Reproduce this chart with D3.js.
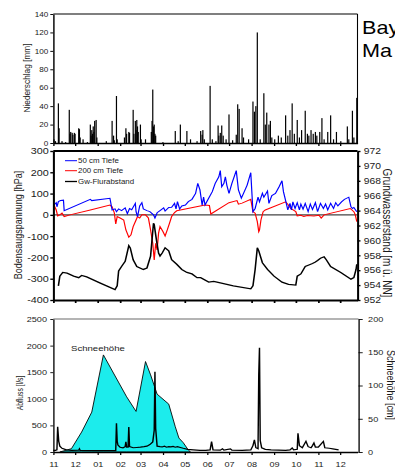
<!DOCTYPE html>
<html>
<head>
<meta charset="utf-8">
<script src="https://cdnjs.cloudflare.com/ajax/libs/d3/7.8.5/d3.min.js"></script>
<style>
  body { margin: 0; background: #fff; }
  svg { display: block; font-family: "Liberation Sans", Arial, sans-serif; }
</style>
</head>
<body>
<div id="chart"></div>
<script>
// the original figure is stretched sideways, so draw in a squeezed box and stretch it back
const SX = 1.2;
const W = 395, H = 471;
const px = (v) => v / SX;

// x axis: days since 1 Nov, month starts
const monthDays = [0, 30, 61, 92, 120, 151, 181, 212, 242, 273, 304, 334, 365, 395];
const monthLabels = ['11', '12', '01', '02', '03', '04', '05', '06', '07', '08', '09', '10', '11', '12'];

const rainTicks = [0, 20, 40, 60, 80, 100, 120, 140];
const suctionTicks = [-400, -300, -200, -100, 0, 100, 200, 300];
const gwTicks = [952, 954, 956, 958, 960, 962, 964, 966, 968, 970, 972];
const flowTicks = [0, 500, 1000, 1500, 2000, 2500];
const snowTicks = [0, 50, 100, 150, 200];

const seriesNames = ['50 cm Tiefe', '200 cm Tiefe', 'Gw-Flurabstand'];

// Niederschlag [mm]  [day, mm]
const rain = [[1,4],[3,2],[7,43],[8,16],[12,2],[17,1],[22,36],[23,10],[24,12],[26,11],[27,9],[29,11],[30,10],
  [35,16],[36,15],[37,6],[41,4],[47,1],[51,20],[52,8],[53,14],[54,10],[55,18],[56,12],[57,24],[59,25],[60,6],
  [73,2],[81,24],[83,8],[84,3],[87,51],[88,4],[98,6],[100,16],[101,10],[104,12],[105,11],[110,36],[111,10],
  [113,24],[114,14],[115,25],[116,18],[117,12],[120,20],[121,4],[127,4],[135,12],[136,24],[137,58],[138,18],
  [139,20],[140,10],[141,8],[151,1],[168,13],[172,2],[175,20],[184,13],[189,4],[198,2],[203,13],[205,9],
  [206,14],[208,4],[216,62],[219,4],[224,2],[227,19],[228,8],[230,11],[232,19],[234,8],[238,4],[242,31],
  [247,3],[252,9],[254,42],[256,37],[260,16],[262,6],[269,4],[275,45],[277,34],[279,40],[281,120],[285,4],
  [290,54],[292,20],[294,33],[297,20],[299,24],[301,6],[305,4],[310,8],[314,6],[320,30],[323,8],[326,14],
  [329,43],[332,10],[336,25],[339,6],[342,14],[347,35],[350,10],[352,8],[355,14],[358,10],[361,12],[363,8],
  [367,12],[370,27],[373,4],[378,12],[382,30],[386,4],[390,12],[396,2],[405,18],[407,4],[412,35],[414,6],[418,49]];

// Bodensaugspannung [hPa]
const blue50 = [[1,46],[4,57],[5,38],[7,62],[10,67],[14,69],[15,19],[51,73],[53,67],[78,78],[81,23],[85,28],
  [87,15],[90,28],[94,20],[99,33],[102,6],[105,30],[108,24],[113,54],[114,15],[116,-8],[119,42],[122,57],
  [124,28],[129,20],[133,15],[138,0],[140,-15],[143,10],[147,20],[152,33],[154,18],[159,35],[163,36],[167,54],
  [169,28],[171,62],[174,28],[177,42],[182,46],[186,62],[191,73],[196,101],[199,148],[202,117],[205,46],
  [207,83],[209,46],[214,78],[219,109],[223,148],[228,179],[230,208],[232,132],[235,148],[237,179],[239,140],
  [242,101],[246,148],[252,208],[255,117],[259,78],[262,101],[267,140],[272,198],[275,15],[278,30],[282,83],
  [284,61],[288,101],[290,83],[295,112],[297,54],[301,91],[306,101],[311,132],[315,160],[317,109],[320,67],
  [323,23],[326,54],[328,23],[330,61],[333,30],[336,57],[339,23],[341,51],[344,27],[347,54],[351,15],[354,51],
  [357,25],[361,57],[364,15],[368,54],[372,30],[375,51],[378,23],[382,54],[386,30],[389,57],[392,42],[397,61],
  [401,73],[407,83],[410,38],[412,30],[414,35],[418,15]];

const red200 = [[1,46],[4,23],[6,-5],[9,0],[12,8],[15,-8],[23,0],[51,23],[78,46],[81,38],[84,10],[86,-43],
  [88,-8],[92,-15],[97,-24],[100,-71],[104,-105],[107,-94],[110,-55],[114,-24],[116,-8],[119,-15],[122,0],
  [127,0],[131,-15],[134,-71],[137,-134],[139,-212],[141,-134],[143,-165],[145,-86],[147,-55],[151,-78],
  [154,-99],[157,-71],[160,-40],[163,-8],[167,11],[170,19],[209,46],[215,44],[217,4],[242,57],[253,67],
  [255,50],[260,55],[272,73],[275,15],[278,8],[281,-32],[283,-79],[284,-72],[286,-24],[289,15],[292,23],
  [320,61],[323,50],[327,30],[334,15],[336,-5],[341,-2],[345,-8],[350,-3],[359,-5],[366,-2],[369,-15],
  [373,0],[409,30],[414,15],[416,0],[418,-32]];

// Grundwasserstand [m ü. NN]
const gwLevel = [[7,953.9],[9,955.2],[13,955.7],[19,955.6],[28,955.2],[35,955.0],[39,955.3],[46,955.1],
  [64,954.3],[85,953.4],[88,953.9],[90,955.9],[94,956.5],[99,957.2],[104,959.3],[106,959.0],[110,957.4],
  [115,956.5],[124,956.1],[129,956.3],[134,957.9],[136,960.1],[138,962.3],[139,962.1],[142,960.1],[145,958.3],
  [147,957.9],[150,958.3],[154,959.0],[159,958.6],[163,957.4],[170,956.8],[177,956.1],[184,955.7],[191,955.5],
  [198,955.0],[203,955.0],[214,954.4],[221,954.5],[230,954.3],[248,953.9],[272,953.5],[275,953.9],[278,956.1],
  [281,959.0],[283,958.6],[288,957.0],[295,956.1],[304,955.2],[315,954.4],[324,954.1],[334,954.0],[336,955.2],
  [341,955.5],[347,956.5],[352,956.7],[357,956.9],[361,957.1],[364,957.3],[368,957.6],[373,957.8],[376,957.4],
  [382,956.5],[396,955.7],[410,954.8],[414,955.0],[417,956.1],[418,956.8]];

// Abfluss [l/s]
const discharge = [[0,30],[3,30],[5,40],[6,475],[7.5,200],[9,110],[12,70],[18,40],[25,30],[35,35],[36,60],
  [37,30],[60,25],[86,25],[87,540],[88,200],[89,130],[92,90],[96,80],[99,100],[100,190],[101,90],[103,90],
  [104,470],[105,100],[110,80],[115,85],[120,90],[125,100],[129,110],[133,140],[137,190],[139,410],[140,1510],
  [141,440],[143,110],[147,100],[150,95],[153,110],[156,90],[159,100],[162,95],[165,105],[168,90],[171,100],
  [175,85],[179,70],[185,50],[193,40],[202,30],[210,30],[216,40],[218,195],[220,40],[230,35],[233,60],[235,35],
  [244,60],[246,35],[260,30],[272,40],[275,120],[277,230],[279,80],[282,60],[283,1450],[284,1960],[285,215],
  [287,80],[292,50],[300,40],[310,35],[320,30],[326,40],[329,75],[331,40],[336,50],[337,350],[339,120],
  [343,80],[348,200],[351,100],[355,80],[357,120],[359,170],[361,90],[365,90],[372,200],[374,80],[380,70],
  [385,60],[393,40]];

// Schneehöhe [cm]
const snowDepth = [[9,0],[25,5],[39,30],[53,60],[69,146],[101,83],[114,61],[127,136],[134,116],[143,87],
  [159,72],[168,38],[173,21],[179,14],[186,3],[189,0]];

const svg = d3.select('#chart').append('svg')
  .attr('width', W).attr('height', H)
  .attr('viewBox', `0 0 ${W / SX} ${H}`)
  .attr('preserveAspectRatio', 'none');

const x0 = px(53.3), x1 = px(357.5);
const x = d3.scaleLinear().domain([0, 419]).range([x0, x1]);
const plain = (d) => String(d); // keep ASCII minus, no thousands comma

function styleAxis(g, fs, lw) {
  g.attr('font-size', fs).attr('font-family', null);
  g.select('.domain').attr('stroke-width', lw);
  g.selectAll('.tick line').attr('stroke-width', lw * 0.8);
  g.selectAll('text').attr('fill', '#1a1a1a');
}

function frameLine(xa, ya, xb, yb, w, c) {
  svg.append('line').attr('x1', xa).attr('y1', ya).attr('x2', xb).attr('y2', yb)
    .attr('stroke', c || '#000').attr('stroke-width', w);
}

function vLabel(txt, xp, yc, fs, rot) {
  svg.append('text')
    .attr('transform', `translate(${px(xp)},${yc}) rotate(${rot})`)
    .attr('text-anchor', 'middle').attr('font-size', fs).attr('fill', '#1a1a1a')
    .text(txt);
}

// ---------- panel 1: precipitation ----------
const yRain = d3.scaleLinear().domain([0, 140]).range([143, 14]);

svg.append('g').selectAll('.bar')
  .data(rain)
  .enter()
  .append('rect')
  .attr('class', 'bar')
  .attr('x', (d) => x(d[0]) - 0.5)
  .attr('width', 1)
  .attr('y', (d) => yRain(d[1]))
  .attr('height', (d) => yRain(0) - yRain(d[1]))
  .attr('fill', '#000');

frameLine(x0, 14, x1, 14, 1.1);
frameLine(x1, 14, x1, 143, 0.9);

svg.append('g').attr('transform', `translate(${x0},0)`)
  .call(d3.axisLeft(yRain).tickValues(rainTicks).tickSize(2.5).tickSizeOuter(0).tickPadding(1.6).tickFormat(plain))
  .call((g) => styleAxis(g, 6.8, 1.2));

svg.append('g').attr('transform', 'translate(0,143)')
  .call(d3.axisBottom(x).tickValues(monthDays).tickSize(3).tickSizeOuter(0).tickFormat(''))
  .call((g) => styleAxis(g, 7, 1.4));

vLabel('Niederschlag [mm]', 29.5, 78, 8.3, -90);

// ---------- panel 2: soil suction + groundwater ----------
const yBod = d3.scaleLinear().domain([-400, 300]).range([300, 151]);
const yGw = d3.scaleLinear().domain([952, 972]).range([300, 151]);

frameLine(x0, yBod(0), x1, yBod(0), 1.1, '#444');

const lineBod = d3.line().x((d) => x(d[0])).y((d) => yBod(d[1]));
const lineGw = d3.line().x((d) => x(d[0])).y((d) => yGw(d[1]));

svg.append('path').datum(red200).attr('d', lineBod)
  .attr('fill', 'none').attr('stroke', '#ff0000').attr('stroke-width', 1);
svg.append('path').datum(blue50).attr('d', lineBod)
  .attr('fill', 'none').attr('stroke', '#0000ff').attr('stroke-width', 1);
svg.append('path').datum(gwLevel).attr('d', lineGw)
  .attr('fill', 'none').attr('stroke', '#000').attr('stroke-width', 1.3);

frameLine(x0, 151, x1, 151, 1.8);

svg.append('g').attr('transform', `translate(${x0},0)`)
  .call(d3.axisLeft(yBod).tickValues(suctionTicks).tickSize(2.5).tickSizeOuter(0).tickPadding(1.3).tickFormat(plain))
  .call((g) => styleAxis(g, 9, 1.7));

svg.append('g').attr('transform', `translate(${x1},0)`)
  .call(d3.axisRight(yGw).tickValues(gwTicks).tickSize(2.5).tickSizeOuter(0).tickPadding(2.8).tickFormat(plain))
  .call((g) => styleAxis(g, 8.6, 1.7));

svg.append('g').attr('transform', 'translate(0,300)')
  .call(d3.axisBottom(x).tickValues(monthDays).tickSize(3).tickSizeOuter(0).tickFormat(''))
  .call((g) => styleAxis(g, 7, 1.8));

vLabel('Bodensaugspannung [hPa]', 22, 225, 9, -90);
vLabel('Grundwasserstand [m ü. NN]', 383, 233, 10, 90);

// legend
const legendColors = ['#0000ff', '#ff0000', '#000'];
const legend = svg.append('g').selectAll('g')
  .data(seriesNames)
  .enter()
  .append('g')
  .attr('transform', (d, i) => `translate(0,${[160.7, 170.7, 181.5][i]})`);
legend.append('line')
  .attr('x1', px(65)).attr('x2', px(77))
  .attr('stroke', (d, i) => legendColors[i]).attr('stroke-width', (d, i) => (i === 2 ? 1.3 : 1));
legend.append('text')
  .attr('x', px(78)).attr('y', 2.3)
  .attr('font-size', 6.6).attr('fill', '#1a1a1a')
  .text((d) => d);

// ---------- panel 3: discharge + snow ----------
const yQ = d3.scaleLinear().domain([0, 2500]).range([452, 319]);
const ySnow = d3.scaleLinear().domain([0, 200]).range([452, 319]);

svg.append('path').datum(snowDepth)
  .attr('d', d3.area().x((d) => x(d[0])).y0(ySnow(0)).y1((d) => ySnow(d[1])))
  .attr('fill', '#1cecec').attr('stroke', '#000').attr('stroke-width', 0.8);

svg.append('path').datum(discharge)
  .attr('d', d3.line().x((d) => x(d[0])).y((d) => yQ(d[1])))
  .attr('fill', 'none').attr('stroke', '#000').attr('stroke-width', 1.2);

frameLine(x0, 319, px(358.5), 319, 0.8, '#555');

svg.append('g').attr('transform', `translate(${x0},0)`)
  .call(d3.axisLeft(yQ).tickValues(flowTicks).tickSize(2.5).tickSizeOuter(0).tickPadding(2.8).tickFormat(plain))
  .call((g) => styleAxis(g, 7.6, 1.1));

svg.append('g').attr('transform', `translate(${px(358.5)},0)`)
  .call(d3.axisRight(ySnow).tickValues(snowTicks).tickSize(3.5).tickSizeOuter(0).tickPadding(4.5).tickFormat(plain))
  .call((g) => styleAxis(g, 7.6, 1.1));

svg.append('g').attr('transform', 'translate(0,452)')
  .call(d3.axisBottom(x).tickValues(monthDays).tickSize(3).tickSizeOuter(0).tickPadding(7)
    .tickFormat((d, i) => monthLabels[i]))
  .call((g) => styleAxis(g, 7.6, 1.3));

vLabel('Abfluss [l/s]', 22.5, 393, 6.8, -90);
vLabel('Schneehöhe [cm]', 386.5, 385, 9, 90);

svg.append('text')
  .attr('x', px(71)).attr('y', 350.7)
  .attr('font-size', 8).attr('fill', '#1a1a1a')
  .text('Schneehöhe');

// ---------- title (cut off by the page edge in the original) ----------
svg.append('text').attr('x', px(362)).attr('y', 34).attr('font-size', 18).attr('fill', '#000').text('Bay');
svg.append('text').attr('x', px(362)).attr('y', 57).attr('font-size', 18).attr('fill', '#000').text('Ma');
</script>
</body>
</html>
